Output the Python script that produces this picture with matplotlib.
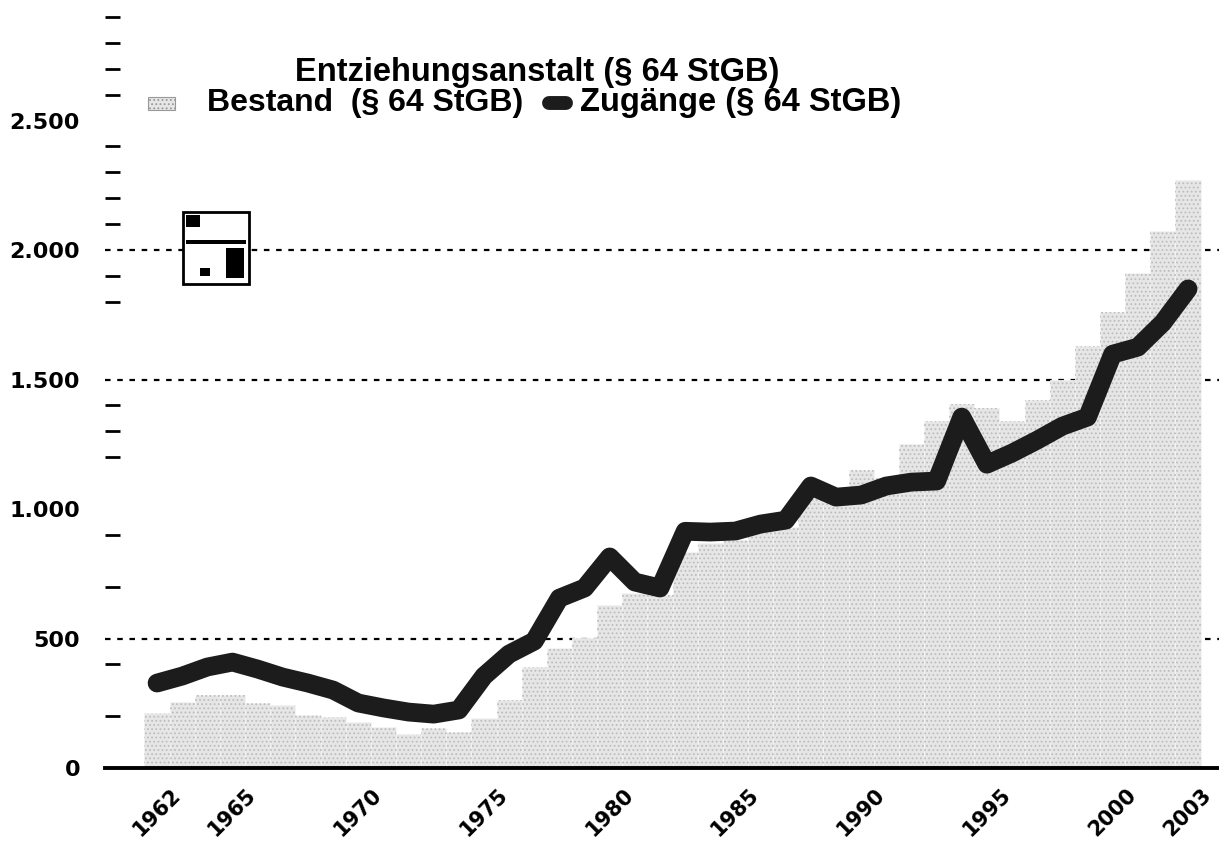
import matplotlib
matplotlib.use("Agg")
import matplotlib.pyplot as plt
from matplotlib.patches import Rectangle
from matplotlib.lines import Line2D

years = list(range(1962, 2004))
bestand = [212, 255, 282, 282, 250, 245, 205, 197, 178, 160,
           130, 154, 140, 193, 263, 390, 463, 502, 629, 676,
           668, 834, 869, 880, 919, 931, 1054, 1080, 1150, 1120,
           1250, 1340, 1405, 1390, 1340, 1420, 1500, 1630, 1760, 1910,
           2075, 2270]
zugaenge = [328, 355, 390, 409, 382, 351, 328, 301, 251, 232,
            216, 208, 224, 355, 440, 490, 656, 695, 815, 718,
            695, 914, 911, 915, 942, 957, 1089, 1046, 1054, 1089,
            1104, 1108, 1355, 1173, 1216, 1266, 1320, 1355, 1598, 1625,
            1720, 1850]

year_ticks = [1962, 1965, 1970, 1975, 1980, 1985, 1990, 1995, 2000, 2003]
y_major = [0, 500, 1000, 1500, 2000, 2500]
y_major_labels = ["0", "500", "1.000", "1.500", "2.000", "2.500"]
y_minor = [200, 400, 500, 700, 900, 1200, 1300, 1400, 1500, 1800, 1900,
           2000, 2100, 2200, 2300, 2400, 2600, 2700, 2800, 2900]
grid_levels = [500, 1500, 2000]

title = "Entziehungsanstalt (§ 64 StGB)"
label_bestand = "Bestand  (§ 64 StGB)"
label_zugaenge = "Zugänge (§ 64 StGB)"

W, H = 1219, 843
fig = plt.figure(figsize=(W / 100, H / 100), dpi=100)
ax = fig.add_axes([105 / W, 1 - 768 / H, 1 - 105 / W, (768 - 10) / H])

bar_color = "#e6e6e6"
line_color = "#1c1c1c"
plt.rcParams["hatch.linewidth"] = 0.8

for lvl in grid_levels:
    ax.axhline(lvl, color="black", lw=1.6, ls=(0, (2.5, 3)), zorder=1)

ax.bar(years, bestand, width=1.0, color=bar_color, edgecolor="#f4f4f4",
       linewidth=0.6, zorder=2)
# stipple texture on top of the bars
ax.bar(years, bestand, width=1.0, fill=False, hatch="....",
       edgecolor="#bdbdbd", linewidth=0, zorder=2.5)
ax.plot(years, zugaenge, color=line_color, lw=13.5, solid_joinstyle="round",
        solid_capstyle="round", zorder=3)

ax.set_xlim(1959.93, 2004.23)
ax.set_ylim(0, 2927)

for s in ["left", "right", "top"]:
    ax.spines[s].set_visible(False)
ax.spines["bottom"].set_linewidth(2.8)

ax.set_xticks(year_ticks)
ax.set_xticklabels([str(y) for y in year_ticks], rotation=45, ha="center",
                   va="top", fontsize=15, fontweight="bold",
                   family="DejaVu Sans")
ax.tick_params(axis="x", length=0, pad=12)

ax.set_yticks(y_major)
ax.set_yticklabels(y_major_labels, fontsize=16, fontweight="bold",
                   family="DejaVu Sans")
ax.set_yticks(y_minor, minor=True)
ax.tick_params(axis="y", which="major", length=0, pad=18)
ax.tick_params(axis="y", which="minor", direction="in", length=11,
               width=2, color="black")

# title and legend row
fig.text(537 / W, 1 - 72 / H, title, ha="center", va="center",
         fontsize=23.5, fontweight="bold", family="Liberation Sans")
fig.add_artist(Rectangle((148 / W, 1 - 110 / H), 27 / W, 13 / H,
                         transform=fig.transFigure, facecolor=bar_color,
                         edgecolor="#999999", lw=0.8, hatch="...."))
fig.text(207 / W, 1 - 103 / H, label_bestand, ha="left", va="center",
         fontsize=23, fontweight="bold", family="Liberation Sans")
fig.add_artist(Line2D([549 / W, 566 / W], [1 - 103 / H, 1 - 103 / H],
                      transform=fig.transFigure, color=line_color, lw=10,
                      solid_capstyle="round"))
fig.text(580 / W, 1 - 103 / H, label_zugaenge, ha="left", va="center",
         fontsize=23.5, fontweight="bold", family="Liberation Sans")

# small boxed stamp in the upper left of the plot
fig.add_artist(Rectangle((183 / W, 1 - 284 / H), 66 / W, 72 / H,
                         transform=fig.transFigure, facecolor="white",
                         edgecolor="black", lw=2, zorder=4))
for (x0, y0, w, h) in [(186, 215, 14, 12), (186, 240, 60, 4),
                       (226, 248, 18, 30), (200, 268, 10, 8)]:
    fig.add_artist(Rectangle((x0 / W, 1 - (y0 + h) / H), w / W, h / H,
                             transform=fig.transFigure, facecolor="black",
                             edgecolor="none", zorder=5))

fig.savefig("out.png", dpi=100)
